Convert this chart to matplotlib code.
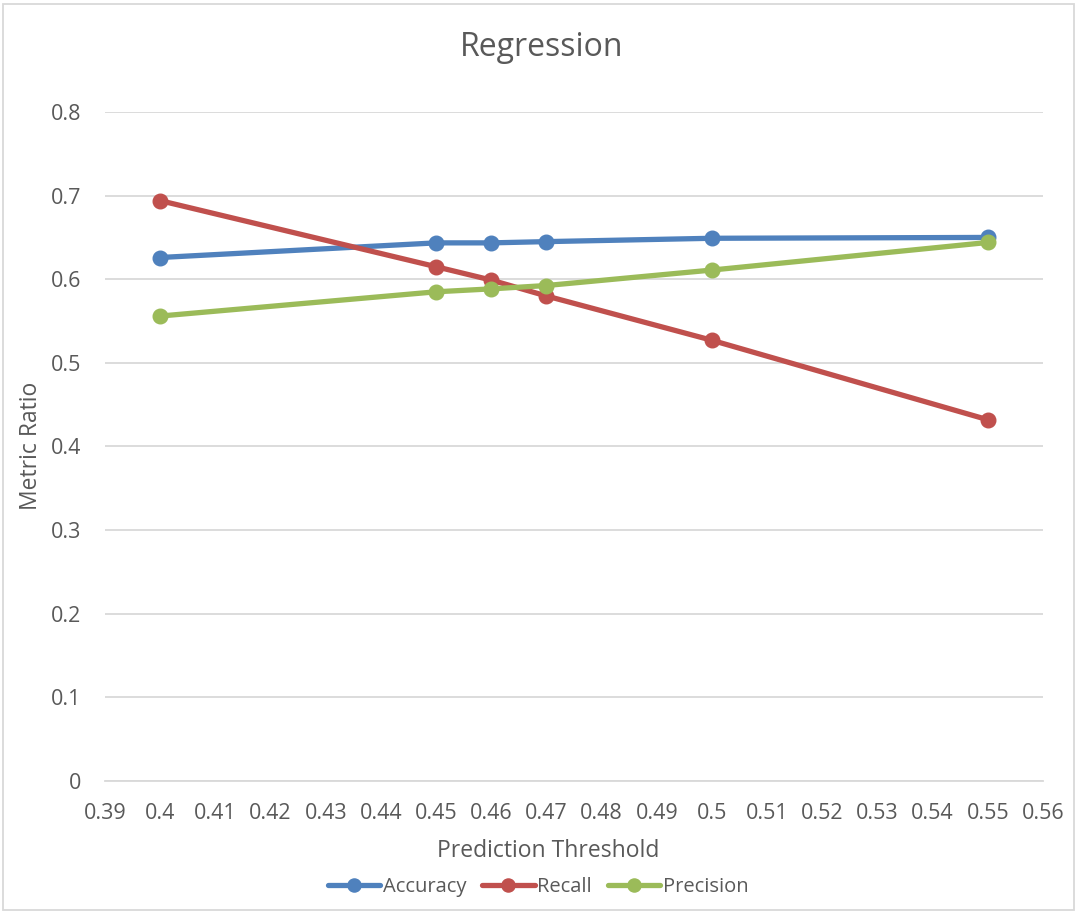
import matplotlib
matplotlib.use("Agg")
import matplotlib.pyplot as plt
from matplotlib.patches import Rectangle
from matplotlib.ticker import MultipleLocator, FuncFormatter

plt.rcParams['font.family'] = ['Open Sans', 'DejaVu Sans']

# Prediction thresholds and the metrics measured at each one
thresholds = [0.40, 0.45, 0.46, 0.47, 0.50, 0.55]
accuracy = [0.626, 0.6435, 0.6435, 0.645, 0.649, 0.650]
recall = [0.694, 0.615, 0.599, 0.580, 0.527, 0.432]
precision = [0.556, 0.585, 0.5885, 0.5925, 0.611, 0.644]

series_names = ["Accuracy", "Recall", "Precision"]
series_colors = ["#4F81BD", "#C0504D", "#9BBB59"]

title = "Regression"
x_label = "Prediction Threshold"
y_label = "Metric Ratio"

text_color = "#595959"
grid_color = "#D9D9D9"

W, H = 1078, 913
fig = plt.figure(figsize=(W / 100, H / 100), dpi=100)

# plot area in pixel bounds
left, right, top, bottom = 105, 1043, 112, 781
ax = fig.add_axes([left / W, 1 - bottom / H, (right - left) / W, (bottom - top) / H])

for name, vals, col in zip(series_names, [accuracy, recall, precision], series_colors):
    ax.plot(thresholds, vals, color=col, lw=3.8, marker='o', ms=10.5,
            markeredgecolor=col, solid_capstyle='round', label=name, clip_on=False)

ax.set_xlim(0.39, 0.56)
ax.set_ylim(0, 0.8)
ax.xaxis.set_major_locator(MultipleLocator(0.01))
ax.yaxis.set_major_locator(MultipleLocator(0.1))

def fmt(v, pos):
    s = f"{v:.2f}".rstrip('0').rstrip('.')
    return s

ax.xaxis.set_major_formatter(FuncFormatter(fmt))
ax.yaxis.set_major_formatter(FuncFormatter(fmt))

ax.grid(axis='y', color=grid_color, lw=1.3)
ax.set_axisbelow(True)
for s in ['top', 'right', 'left']:
    ax.spines[s].set_visible(False)
ax.spines['bottom'].set_color(grid_color)
ax.spines['bottom'].set_linewidth(1.3)
ax.tick_params(axis='both', length=0, labelsize=15.5, colors=text_color)
ax.tick_params(axis='x', pad=16)
ax.tick_params(axis='y', pad=17)

fig.text(542 / W, 1 - 47 / H, title, ha='center', va='center', fontsize=23, color=text_color)
fig.text(548 / W, 1 - 851 / H, x_label, ha='center', va='center', fontsize=16.5, color=text_color)
fig.text(31 / W, 1 - 446 / H, y_label, ha='center', va='center', rotation=90,
         fontsize=16.5, color=text_color)

leg = fig.legend(loc='center', bbox_to_anchor=(538 / W, 1 - 887 / H), ncol=3, frameon=False,
                 fontsize=14.5, handlelength=2.6, handletextpad=0.12, columnspacing=0.8,
                 markerscale=0.9)
for t in leg.get_texts():
    t.set_color(text_color)

# chart border
fig.patches.append(Rectangle((3 / W, 3 / H), (W - 7) / W, (H - 7) / H, transform=fig.transFigure,
                             fill=False, edgecolor=grid_color, lw=1.3))

fig.savefig("out.png", dpi=100)
